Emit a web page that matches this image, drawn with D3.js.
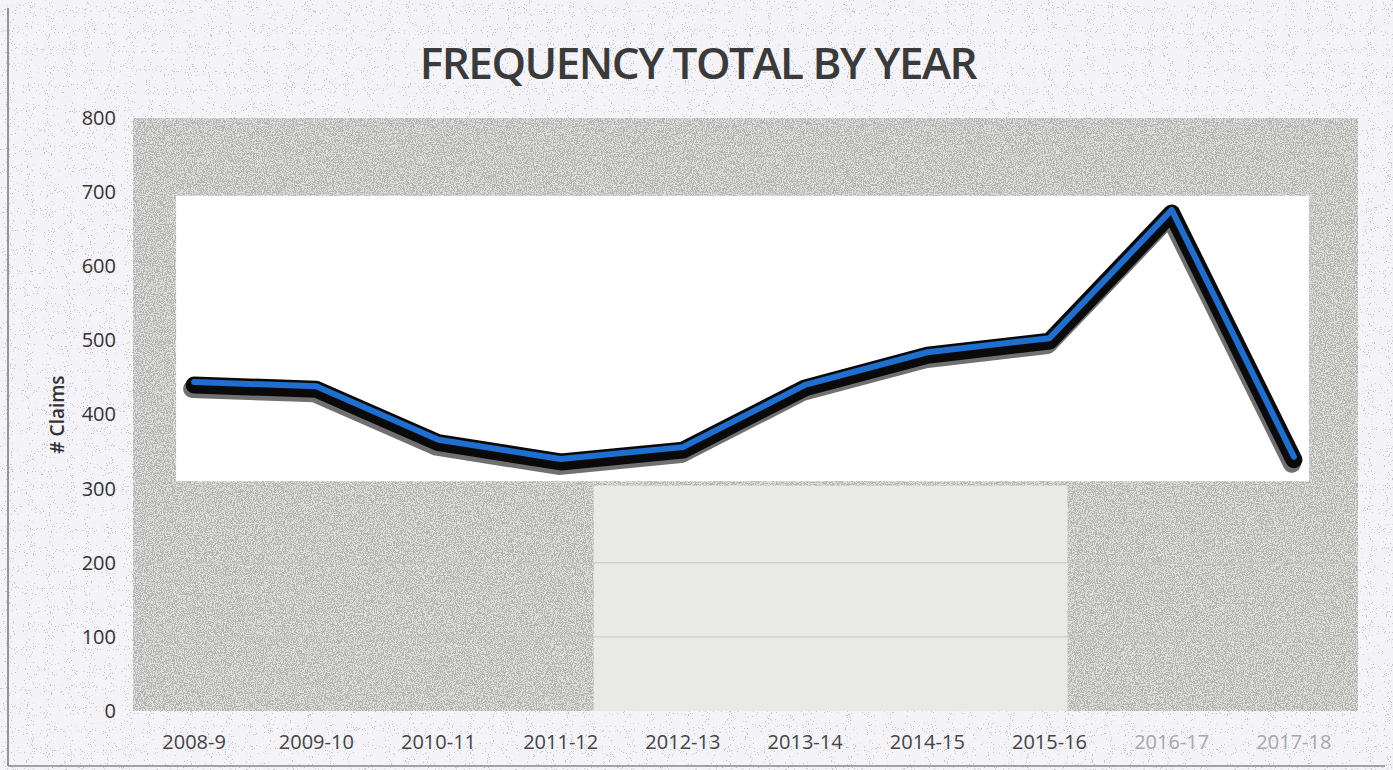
<html>
<script src="https://d3js.org/d3.v7.min.js"></script>
<style>
  body { margin: 0; background: #f4f4f8; }
  text { font-family: "Open Sans", "DejaVu Sans", sans-serif; }
</style>
<body>
<script>
  // values
  let years = ["2008-9", "2009-10", "2010-11", "2011-12", "2012-13",
               "2013-14", "2014-15", "2015-16", "2016-17", "2017-18"];
  let claims = [444, 438, 366, 340, 356, 440, 484, 503, 676, 343];
  let yTicks = [0, 100, 200, 300, 400, 500, 600, 700, 800];
  let fadedYears = ["2016-17", "2017-18"]; // these came out pale on the scan

  let width = 1393, height = 770;
  let plot = {left: 133, right: 1355, top: 118, bottom: 711};

  let svg = d3.select("body").append("svg")
      .attr("width", width)
      .attr("height", height);

  // speckle filters to give the scanned look
  let defs = svg.append("defs");
  function speckle(id, freq, seed, grey, slope, offset) {
    let f = defs.append("filter").attr("id", id)
        .attr("x", 0).attr("y", 0).attr("width", 1).attr("height", 1);
    f.append("feTurbulence").attr("type", "fractalNoise")
        .attr("baseFrequency", freq).attr("numOctaves", 2).attr("seed", seed).attr("result", "n");
    f.append("feColorMatrix").attr("in", "n").attr("type", "matrix")
        .attr("values", `0 0 0 0 ${grey}  0 0 0 0 ${grey}  0 0 0 0 ${grey}  0 0 0 ${slope} ${offset}`)
        .attr("result", "dots");
    f.append("feComposite").attr("in", "dots").attr("in2", "SourceGraphic").attr("operator", "in");
  }
  speckle("speckle", 0.9, 4, 0.45, -9, 5.0);
  speckle("speckleLight", 0.95, 9, 0.55, -22, 7.0);

  // page frame
  svg.append("rect").attr("x", 0).attr("y", 0).attr("width", width).attr("height", height)
      .attr("fill", "#f3f3f8");
  svg.append("rect").attr("x", 0).attr("y", 0).attr("width", width).attr("height", height)
      .attr("fill", "#fff").attr("filter", "url(#speckleLight)");
  svg.append("line").attr("x1", 8).attr("x2", 8).attr("y1", 8).attr("y2", 766)
      .attr("stroke", "#777").attr("stroke-width", 1.5);
  svg.append("line").attr("x1", 8).attr("x2", 1385).attr("y1", 766).attr("y2", 766)
      .attr("stroke", "#888").attr("stroke-width", 1.5);

  let x = d3.scaleBand()
      .domain(years)
      .range([plot.left, plot.right]);
  let y = d3.scaleLinear()
      .domain([0, 800])
      .range([plot.bottom, plot.top]);
  let cx = d => x(d) + x.bandwidth() / 2;

  // plot background (grey, with the scan's lighter and white patches)
  let bg = svg.append("g");
  bg.append("rect")
      .attr("x", plot.left).attr("y", plot.top)
      .attr("width", 1358 - plot.left).attr("height", plot.bottom - plot.top)
      .attr("fill", "#dededa");
  bg.append("rect")
      .attr("x", plot.left).attr("y", plot.top)
      .attr("width", 1358 - plot.left).attr("height", plot.bottom - plot.top)
      .attr("fill", "#fff").attr("filter", "url(#speckle)");
  bg.append("rect")
      .attr("x", cx("2011-12") + 33).attr("y", y(300) - 3)
      .attr("width", cx("2015-16") + 18 - (cx("2011-12") + 33))
      .attr("height", plot.bottom - y(300) + 3)
      .attr("fill", "#e9e9e5");
  bg.append("rect")
      .attr("x", cx(years[0]) - 18).attr("y", y(695))
      .attr("width", cx(years[9]) + 15 - (cx(years[0]) - 18))
      .attr("height", y(310) - y(695))
      .attr("fill", "#ffffff");

  // gridlines
  svg.append("g").selectAll("line")
      .data(yTicks.filter(d => d > 0 && d < 300))
      .join("line")
      .attr("x1", plot.left).attr("x2", 1358)
      .attr("y1", d => y(d)).attr("y2", d => y(d))
      .attr("stroke", "#c4c4c0").attr("stroke-width", 1);

  // y axis labels
  let yAxis = svg.append("g")
      .attr("transform", `translate(${plot.left - 17},0)`)
      .call(d3.axisLeft(y).tickValues(yTicks).tickSize(0).tickPadding(0));
  yAxis.select(".domain").remove();
  yAxis.selectAll("text")
      .style("font-size", "20px")
      .attr("fill", "#333");

  // x axis labels
  let xAxis = svg.append("g")
      .attr("transform", `translate(0,${plot.bottom})`)
      .call(d3.axisBottom(x).tickSize(0).tickPadding(24));
  xAxis.select(".domain").remove();
  xAxis.selectAll("text")
      .style("font-size", "20px")
      .attr("fill", d => fadedYears.includes(d) ? "#a8a8a8" : "#444");

  // axis title
  svg.append("text")
      .attr("transform", `translate(64,${y(400)}) rotate(-90)`)
      .attr("text-anchor", "middle")
      .style("font-size", "19px")
      .style("font-weight", 600)
      .attr("fill", "#333")
      .text("# Claims");

  // chart title
  svg.append("text")
      .attr("x", 698).attr("y", 79)
      .attr("text-anchor", "middle")
      .style("font-size", "44px")
      .style("font-weight", 600)
      .style("letter-spacing", "-1.5px")
      .attr("fill", "#3a3a3a")
      .text("FREQUENCY TOTAL BY YEAR");

  // the line: grey shadow, black border, blue core
  let line = d3.line()
      .x((d, i) => cx(years[i]))
      .y(d => y(d));

  svg.append("path")
      .datum(claims)
      .attr("d", line)
      .attr("transform", "translate(-2,7)")
      .attr("fill", "none")
      .attr("stroke", "#707070")
      .attr("stroke-width", 18)
      .attr("stroke-linejoin", "round")
      .attr("stroke-linecap", "round");
  svg.append("path")
      .datum(claims)
      .attr("d", line)
      .attr("transform", "translate(0,3)")
      .attr("fill", "none")
      .attr("stroke", "#0a0a0a")
      .attr("stroke-width", 17)
      .attr("stroke-linejoin", "round")
      .attr("stroke-linecap", "round");
  svg.append("path")
      .datum(claims)
      .attr("d", line)
      .attr("fill", "none")
      .attr("stroke", "#1f6fd0")
      .attr("stroke-width", 6)
      .attr("stroke-linejoin", "round")
      .attr("stroke-linecap", "round");
</script>
</body>
</html>
